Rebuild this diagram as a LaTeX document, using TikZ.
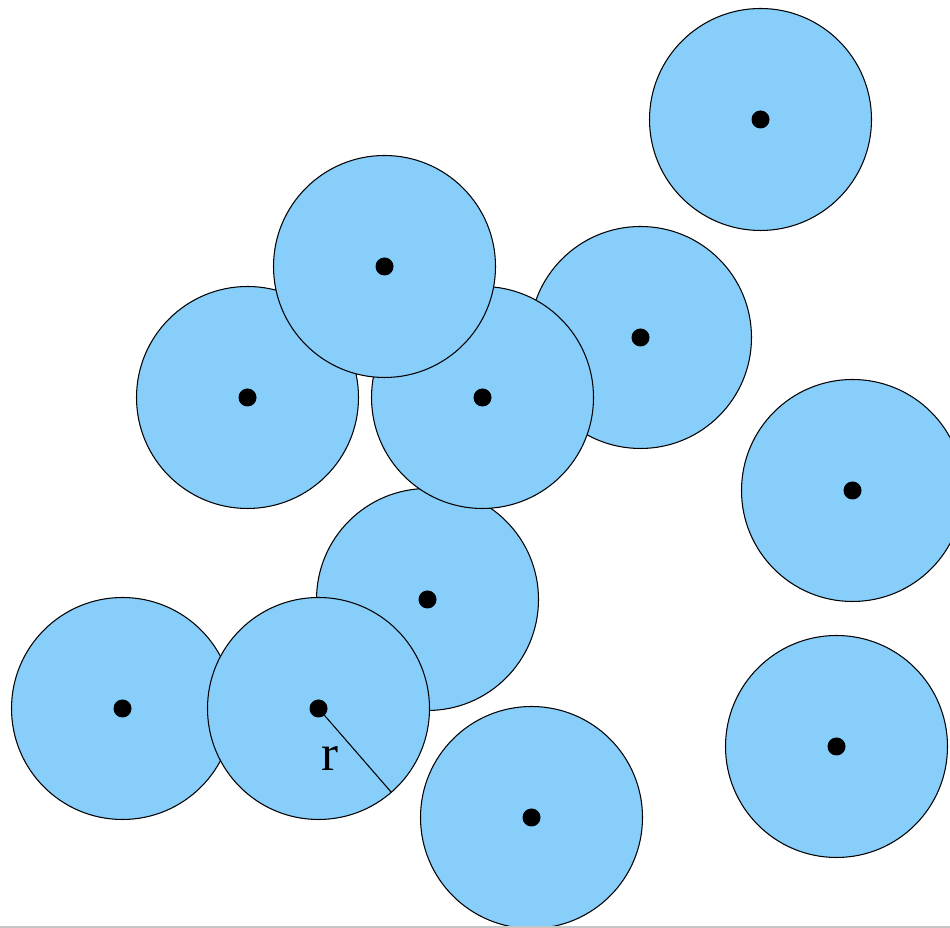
\documentclass[tikz,border=0pt]{standalone}
\usepackage{fontspec}
\setmainfont{Liberation Serif}
\definecolor{diskblue}{RGB}{135,206,250}
\tikzset{
  disk/.style={circle,draw=black,line width=0.3pt,fill=diskblue,minimum size=2.22cm,inner sep=0pt,outer sep=0pt},
  hub/.style={circle,fill=black,minimum size=0.18cm,inner sep=0pt}
}
\begin{document}
\begin{tikzpicture}[x=1cm,y=-1cm]
\useasboundingbox (0,0) rectangle (9.5,9.28);
\clip (0,0) rectangle (9.5,9.28);
% disks, back to front
\foreach \name/\x/\y in {a/7.605/1.195, c/2.475/3.975, e/6.405/3.375, g/4.275/5.995, d/4.825/3.975,
    b/3.845/2.665, f/8.525/4.905, h/1.225/7.085, i/3.185/7.085, j/5.315/8.175, k/8.365/7.465}
  \node[disk] (\name) at (\x,\y) {};
\foreach \name in {a,b,c,d,e,f,g,h,i,j,k}
  \node[hub] (\name dot) at (\name.center) {};
% radius
\draw[line width=0.3pt] (idot.center) -- (i.-49.5);
\node[font=\fontsize{14.5}{16}\selectfont] (rlab) at (3.30,7.58) {r};
\draw[gray!45,line width=0.3pt] (0,9.27) -- (9.5,9.27);
\end{tikzpicture}
\end{document}
